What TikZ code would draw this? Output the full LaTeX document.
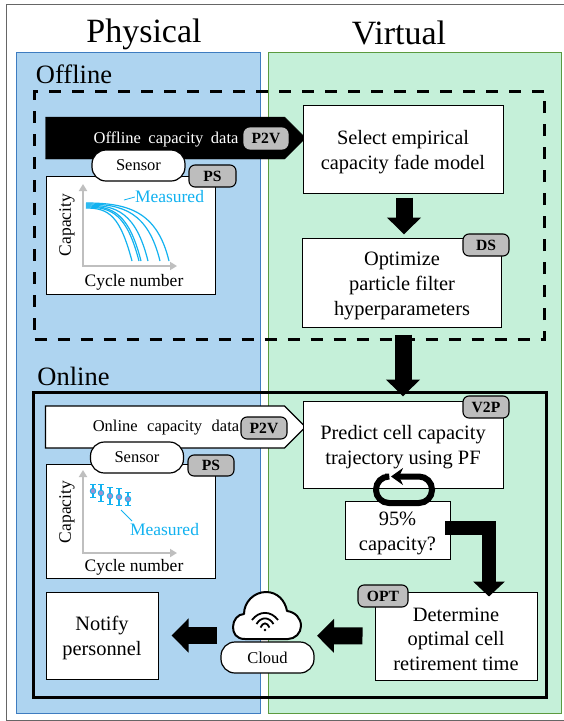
\documentclass[tikz,border=0pt]{standalone}
\usepackage{fontspec}
\setmainfont{Liberation Serif}
\usetikzlibrary{arrows.meta,shapes.symbols}

\definecolor{physfill}{HTML}{AED4F0}
\definecolor{physline}{HTML}{3E7CC0}
\definecolor{virtfill}{HTML}{C5F0D9}
\definecolor{virtline}{HTML}{5B9A3F}
\definecolor{tagfill}{HTML}{BDBDBD}
\definecolor{meas}{HTML}{12B2F0}
\definecolor{axisgray}{HTML}{BFBFBF}

\newcommand{\topgap}{\rule{0pt}{20pt}}

\tikzset{
  panel/.style={draw, inner sep=0pt, line width=1pt},
  boxnode/.style={draw, fill=white, inner sep=0pt, line width=1pt, font=\fontsize{20.4}{24.8}\selectfont},
  chartbox/.style={draw, fill=white, inner sep=0pt, line width=1pt},
  pill/.style={draw, fill=white, rounded corners=14pt, inner sep=0pt, line width=1.2pt, minimum width=93pt, minimum height=31pt, font=\fontsize{16.5}{20}\selectfont},
  tag/.style={draw, fill=tagfill, rounded corners=6pt, inner sep=0pt, line width=1.1pt, font=\fontsize{15.6}{18}\selectfont\bfseries},
  axislabel/.style={inner sep=0pt, font=\fontsize{17.5}{20}\selectfont},
  measlabel/.style={inner sep=0pt, text=meas, font=\fontsize{17.5}{20}\selectfont},
  datalabel/.style={inner sep=0pt, font=\fontsize{16.5}{20}\selectfont},
  blockarrow/.style={line width=17pt, -{Triangle[length=17pt,width=33pt]}},
  chartaxis/.style={axisgray, line width=2pt, {Triangle[length=7pt,width=8pt]}-{Triangle[length=7pt,width=8pt]}},
  dataarrow/.style={signal, signal to=east, signal from=nowhere, signal pointer angle=90, draw, inner sep=0pt, minimum width=260pt, minimum height=42pt},
}

\begin{document}
\begin{tikzpicture}[x=1pt,y=-1pt,every text node part/.style={align=center}]

    \useasboundingbox (0,0) rectangle (564,721);
    \fill[white] (0,0) rectangle (564,721);
    \draw[black!60, line width=1pt] (6,4) rectangle (572,720);

    % --------------------------------------------------------- %
    % ------------- panels and titles
    % --------------------------------------------------------- %
    \node[panel, draw=physline, fill=physfill, minimum width=243.5pt, minimum height=661pt] (physical) at (138.25,382.5) {};
    \node[panel, draw=virtline, fill=virtfill, minimum width=293pt, minimum height=661pt] (virtual) at (414.5,382.5) {};
    \node[font=\fontsize{34}{40}\selectfont] (phystitle) at (144,34) {Physical};
    \node[font=\fontsize{34}{40}\selectfont] (virttitle) at (399,33) {Virtual};

    % --------------------------------------------------------- %
    % ------------- Offline
    % --------------------------------------------------------- %
    \node[font=\fontsize{26.5}{30}\selectfont] (offlinetitle) at (74,74) {Offline};
    \node[draw, line width=3pt, dash pattern=on 12pt off 11pt, minimum width=510pt, minimum height=248pt] (offline) at (289.5,215) {};

    % --- data arrow
    \node[dataarrow, fill=black] (offdata) at (165,138) {};
    \node[datalabel, text=white] (offtext) at (166,139) {Offline\hspace{7.5pt}capacity\hspace{7.5pt}data};
    \node[tag, draw=tagfill, minimum width=44pt, minimum height=21pt] (offp2v) at (266,138.5) {P2V};

    % --- chart
    \node[chartbox, minimum width=169pt, minimum height=118pt] (offchart) at (130.5,235) {};
    \node[pill] (offsensor) at (138.5,165.5) {Sensor};
    \node[tag, minimum width=47pt, minimum height=22pt] (offps) at (212.5,176) {PS};
    \coordinate (offorigin) at (83,266);
    \draw[chartaxis] (83,184) -- (offorigin) -- (177,266);
    \node[axislabel, rotate=90] (offcap) at (67,225) {Capacity};
    \node[axislabel] (offcycle) at (134,282) {Cycle number};
    \node[measlabel] (offmeas) at (169.5,197) {Measured};
    \draw[meas, line width=.8pt] (124,200) -- (offmeas.west);
    \foreach \ystart/\xend in {203/169,204/160,205/148,206/141,207/139,208/132}{
      \draw[meas, line width=1.2pt] (86,\ystart) .. controls ({(86+\xend)/2},\ystart) and (\xend-12,\ystart+8) .. (\xend,261);
    }

    % --- model boxes
    \node[boxnode, minimum width=200pt, minimum height=88pt] (select) at (403,149) {\topgap Select empirical\\capacity fade model};
    \node[boxnode, minimum width=199pt, minimum height=89pt] (optimize) at (402,282.5) {\topgap Optimize\\particle filter\\hyperparameters};
    \node[tag, minimum width=46pt, minimum height=22pt] (ds) at (486,245) {DS};

    % --------------------------------------------------------- %
    % ------------- Online
    % --------------------------------------------------------- %
    \node[font=\fontsize{26.5}{30}\selectfont] (onlinetitle) at (73.5,376) {Online};
    \node[draw, line width=3pt, minimum width=513pt, minimum height=305pt] (online) at (289.5,544.5) {};

    % --- data arrow
    \node[dataarrow, fill=white, line width=1.2pt] (ondata) at (165,427) {};
    \node[datalabel] (ontext) at (166,428) {Online\hspace{9.5pt}capacity\hspace{9.5pt}data};
    \node[tag, minimum width=46pt, minimum height=22pt] (onp2v) at (264,428) {P2V};

    % --- chart
    \node[chartbox, minimum width=169pt, minimum height=114pt] (onchart) at (130.5,521) {};
    \node[pill] (onsensor) at (137,457.5) {Sensor};
    \node[tag, minimum width=46pt, minimum height=21pt] (onps) at (211,465.5) {PS};
    \coordinate (onorigin) at (83,553);
    \draw[chartaxis] (83,470) -- (onorigin) -- (177,553);
    \node[axislabel, rotate=90] (oncap) at (67,512) {Capacity};
    \node[axislabel] (oncycle) at (134,567) {Cycle number};
    \node[measlabel] (onmeas) at (164.5,530) {Measured};
    \draw[meas, line width=.8pt] (121,510) -- (132,521);
    \foreach \xpos/\ypos/\hgt in {93/491/7,101/493/9,110/496/9,119/497/9,128/499/7}{
      \draw[meas, line width=1.1pt, {Bar[width=6pt,length=0pt]}-{Bar[width=6pt,length=0pt]}] (\xpos,\ypos-\hgt) -- (\xpos,\ypos+\hgt);
      \fill[fill=violet!30!physfill, draw=meas, line width=.8pt] (\xpos,\ypos) circle [radius=2.8pt];
    }

    % --- prediction boxes
    \node[boxnode, minimum width=200pt, minimum height=87pt] (predict) at (403,444.5) {\topgap Predict cell capacity\\trajectory using PF};
    \node[tag, minimum width=46pt, minimum height=22pt] (vtwop) at (486,407) {V2P};
    \node[boxnode, minimum width=105pt, minimum height=58pt] (check) at (397.5,530) {\topgap 95\%\\capacity?};
    \node[boxnode, minimum width=162pt, minimum height=88pt] (determine) at (456,636) {\topgap Determine\\optimal cell\\retirement time};
    \node[tag, minimum width=50pt, minimum height=22pt] (opt) at (383,596) {OPT};
    \node[boxnode, minimum width=112pt, minimum height=87pt] (notify) at (102,635.5) {\topgap Notify\\personnel};

    % --- cloud
    \node[inner sep=0pt, minimum width=68pt, minimum height=47pt] (cloudicon) at (267,615.5) {};
    \draw[line width=2pt, fill=white, line join=round] (245,639) .. controls (236,639) and (233,633) .. (233,627) .. controls (233,620) and (238,614) .. (244,614) .. controls (244,602) and (254,592) .. (266,592) .. controls (277,592) and (285,600) .. (287,611) .. controls (295,612) and (301,618) .. (301,626) .. controls (301,633) and (295,639) .. (288,639) -- cycle;
    \draw[line width=1.8pt] (252,620) .. controls (259,610.5) and (271,610.5) .. (278,620);
    \draw[line width=1.8pt] (256.5,624) .. controls (261,616.5) and (269,616.5) .. (273.5,624);
    \draw[line width=1.8pt] (260.5,627.5) .. controls (263,622) and (267,622) .. (269.5,627.5);
    \fill (265,630) circle [radius=1.4pt];
    \node[pill] (cloudname) at (267.5,657.5) {Cloud};
    \coordinate (cloudport) at (267,635.5);

    % --------------------------------------------------------- %
    % ------------ Arrows
    % --------------------------------------------------------- %
    \draw[blockarrow, shorten <=4pt, shorten >=3pt] (select.south -| 404,0) -- (optimize.north -| 404,0);
    \draw[blockarrow, shorten <=7pt, shorten >=4pt] (optimize.south -| 403,0) -- (predict.north -| 403,0);
    \draw[blockarrow, shorten <=12pt, shorten >=50pt] (determine.west) -- (cloudport);
    \draw[blockarrow, shorten <=50pt, shorten >=13pt] (cloudport) -- (notify.east);
    \coordinate (elbowstart) at (445,528);
    \coordinate (elbowbend) at (489,528);
    \draw[line width=14pt, -{Triangle[length=15pt,width=31pt]}, shorten >=-5pt] (elbowstart) -- (elbowbend) -- (elbowbend |- determine.north);
    \coordinate (loopstart) at (385,476.5);
    \coordinate (loopend) at (391,476.5);
    \draw[line width=6pt, rounded corners=13pt, -{Stealth[length=12pt,width=17pt]}] (loopstart) -- (376,476.5) -- (376,503) -- (432,503) -- (432,476.5) -- (loopend);

\end{tikzpicture}
\end{document}
